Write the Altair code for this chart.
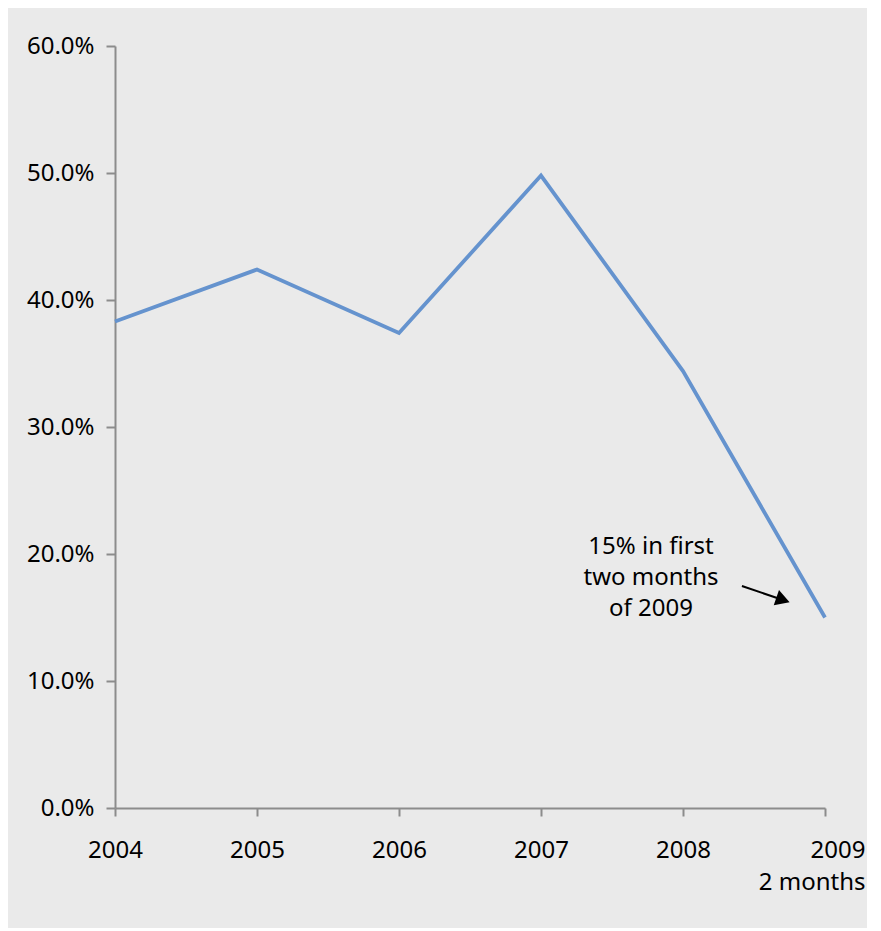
import altair as alt
import pandas as pd

# ---- data ----
year_labels = ["2004", "2005", "2006", "2007", "2008", "2009"]
last_label_lines = ["2009", "2 months"]
year_index = [0, 1, 2, 3, 4, 5]
share = [0.383, 0.424, 0.374, 0.498, 0.344, 0.150]

y_ticks = [0.0, 0.1, 0.2, 0.3, 0.4, 0.5, 0.6]

annotation_text = "15% in first\ntwo months\nof 2009"
annotation_pos = [3.775, 0.2055]          # (index, share) of first line
arrow_start = [4.415, 0.1748]
arrow_end = [4.704, 0.1638]               # arrowhead centre

FONT = "Noto Sans"
LINE_BLUE = "#6593CE"
AXIS_GREY = "#8C8C8C"

df = pd.DataFrame({"idx": year_index, "share": share, "year": year_labels})

label_array = "[" + ",".join("'%s'" % s for s in year_labels[:-1]) + "]"
last_array = "[" + ",".join("'%s'" % s for s in last_label_lines) + "]"
x_label_expr = f"datum.value == 5 ? {last_array} : {label_array}[datum.value]"

x_scale = alt.Scale(domain=[0, 5], nice=False, zero=False)
y_scale = alt.Scale(domain=[0, 0.6], nice=False)

line = alt.Chart(df).mark_line(color=LINE_BLUE, strokeWidth=3.8).encode(
    x=alt.X(
        "idx:Q",
        scale=x_scale,
        axis=alt.Axis(
            title=None,
            values=year_index,
            labelExpr=x_label_expr,
            grid=False,
            domainColor=AXIS_GREY,
            domainWidth=2,
            tickColor=AXIS_GREY,
            tickWidth=2,
            tickSize=8,
            labelPadding=22,
            labelFont=FONT,
            labelFontSize=24,
            labelColor="black",
            labelLineHeight=32,
            labelBaseline="top",
            labelFlush=False,
            labelOverlap=False,
            labelAlign={"condition": {"test": "datum.value == 5", "value": "right"}, "value": "center"},
            labelOffset={"condition": {"test": "datum.value == 5", "value": 40}, "value": 0},
        ),
    ),
    y=alt.Y(
        "share:Q",
        scale=y_scale,
        axis=alt.Axis(
            title=None,
            values=y_ticks,
            format=".1%",
            grid=False,
            domainColor=AXIS_GREY,
            domainWidth=2,
            tickColor=AXIS_GREY,
            tickWidth=2,
            tickSize=9,
            labelPadding=12,
            labelFont=FONT,
            labelFontSize=24,
            labelColor="black",
            labelFlush=False,
        ),
    ),
)

ann_df = pd.DataFrame({"idx": [annotation_pos[0]], "share": [annotation_pos[1]], "t": [annotation_text]})
ann = alt.Chart(ann_df).mark_text(
    font=FONT, fontSize=24, color="black", align="center", baseline="middle",
    lineBreak="\n", lineHeight=31,
).encode(
    x=alt.X("idx:Q", scale=x_scale),
    y=alt.Y("share:Q", scale=y_scale),
    text="t:N",
)

arrow_df = pd.DataFrame({
    "x1": [arrow_start[0]], "y1": [arrow_start[1]],
    "x2": [arrow_end[0]], "y2": [arrow_end[1]],
})
shaft = alt.Chart(arrow_df).mark_rule(color="black", strokeWidth=2).encode(
    x=alt.X("x1:Q", scale=x_scale),
    y=alt.Y("y1:Q", scale=y_scale),
    x2="x2:Q",
    y2="y2:Q",
)
head = alt.Chart(arrow_df).mark_point(
    shape="triangle-right", filled=True, color="black", size=260, opacity=1, angle=19,
).encode(
    x=alt.X("x2:Q", scale=x_scale),
    y=alt.Y("y2:Q", scale=y_scale),
)

chart = alt.layer(line, ann, shaft, head).properties(
    width=710,
    height=762,
    background="#EAEAEA",
    padding={"left": 107, "top": 38, "right": 42, "bottom": 120},
    autosize=alt.AutoSizeParams(type="none"),
).configure_view(stroke=None)

chart.save("out.html", embed_options={"renderer": "svg", "actions": False})
